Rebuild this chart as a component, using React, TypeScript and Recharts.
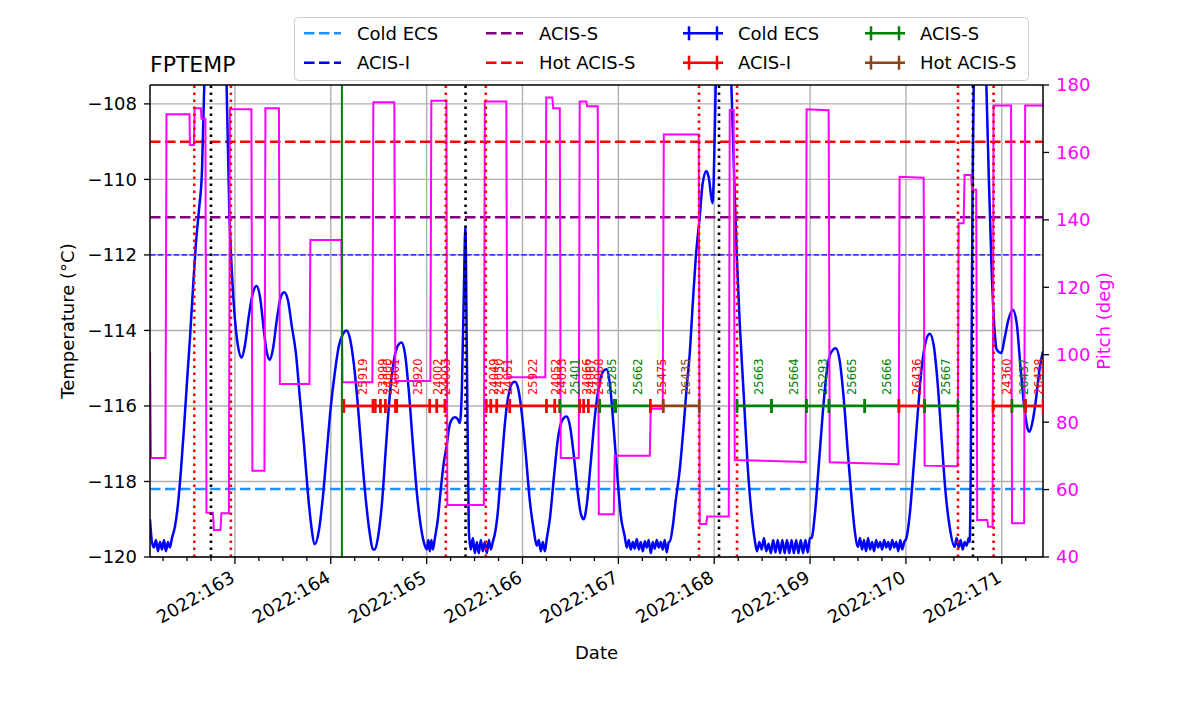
import React from 'react'
import {
  ComposedChart,
  Line,
  Scatter,
  XAxis,
  YAxis,
  CartesianGrid,
  ReferenceLine,
} from 'recharts'

// focal plane temperature (day of 2022, deg C)
const TEMP: [number, number][] = [
  [162.114, -119.0], [162.134, -119.6], [162.155, -119.75], [162.176, -119.55],
  [162.197, -119.85], [162.218, -119.6], [162.239, -119.8], [162.26, -119.55],
  [162.28, -119.85], [162.301, -119.6], [162.322, -119.75], [162.343, -119.5],
  [162.374, -119.2], [162.406, -118.6], [162.437, -117.7], [162.468, -116.6],
  [162.499, -115.4], [162.531, -114.2], [162.562, -112.9], [162.593, -111.7],
  [162.625, -110.8], [162.656, -109.8], [162.68, -107.5], [162.718, -105.0],
  [162.791, -103.0], [162.864, -105.0], [162.913, -107.5], [162.941, -110.8],
  [162.969, -112.5], [163.0, -113.7], [163.031, -114.4], [163.07, -114.72],
  [163.104, -114.4], [163.146, -113.6], [163.188, -113.0], [163.226, -112.82],
  [163.261, -113.1], [163.302, -114.0], [163.334, -114.6], [163.365, -114.78],
  [163.396, -114.5], [163.438, -113.7], [163.48, -113.1], [163.514, -112.99],
  [163.553, -113.2], [163.594, -113.9], [163.636, -114.6], [163.678, -115.8],
  [163.72, -117.0], [163.761, -118.3], [163.793, -119.1], [163.834, -119.66],
  [163.876, -119.3], [163.918, -118.4], [163.959, -117.2], [164.001, -116.0],
  [164.043, -115.1], [164.085, -114.4], [164.126, -114.1], [164.165, -114.0],
  [164.199, -114.2], [164.241, -114.9], [164.283, -116.0], [164.324, -117.3],
  [164.366, -118.5], [164.408, -119.4], [164.439, -119.8], [164.46, -119.8],
  [164.491, -119.5], [164.533, -118.6], [164.575, -117.1], [164.616, -115.7],
  [164.658, -114.8], [164.7, -114.4], [164.738, -114.32], [164.773, -114.6],
  [164.814, -115.6], [164.856, -117.0], [164.898, -118.3], [164.94, -119.2],
  [164.981, -119.7], [165.002, -119.8], [165.018, -119.55], [165.033, -119.85],
  [165.049, -119.55], [165.065, -119.8], [165.086, -119.5], [165.117, -119.0],
  [165.148, -118.2], [165.179, -117.5], [165.208, -117.08], [165.232, -116.6],
  [165.26, -116.37], [165.294, -116.3], [165.325, -116.35], [165.346, -116.45],
  [165.367, -115.6], [165.388, -113.0], [165.404, -111.25], [165.419, -114.5],
  [165.44, -119.3], [165.461, -119.8], [165.482, -119.5], [165.503, -119.9],
  [165.524, -119.6], [165.544, -119.9], [165.565, -119.55], [165.586, -119.85],
  [165.607, -119.6], [165.628, -119.9], [165.649, -119.55], [165.67, -119.8],
  [165.69, -119.6], [165.711, -119.4], [165.743, -118.8], [165.774, -117.8],
  [165.805, -116.8], [165.836, -116.0], [165.868, -115.55], [165.899, -115.38],
  [165.92, -115.36], [165.951, -115.5], [165.993, -116.2], [166.035, -117.3],
  [166.076, -118.5], [166.118, -119.3], [166.149, -119.7], [166.17, -119.55],
  [166.191, -119.85], [166.212, -119.6], [166.233, -119.85], [166.254, -119.5],
  [166.285, -119.0], [166.327, -117.9], [166.368, -116.9], [166.41, -116.4],
  [166.459, -116.28], [166.493, -116.5], [166.535, -117.3], [166.577, -118.3],
  [166.608, -118.85], [166.639, -119.0], [166.671, -118.6], [166.712, -117.5],
  [166.754, -116.3], [166.796, -115.5], [166.837, -115.1], [166.876, -115.03],
  [166.911, -115.4], [166.952, -116.6], [166.994, -118.0], [167.025, -118.9],
  [167.067, -119.46], [167.088, -119.75], [167.109, -119.55], [167.13, -119.8],
  [167.151, -119.6], [167.171, -119.78], [167.192, -119.52], [167.213, -119.8],
  [167.234, -119.6], [167.255, -119.85], [167.276, -119.58], [167.297, -119.75],
  [167.317, -119.55], [167.338, -119.9], [167.359, -119.6], [167.38, -119.78],
  [167.401, -119.55], [167.422, -119.75], [167.443, -119.6], [167.463, -119.8],
  [167.484, -119.55], [167.505, -119.88], [167.526, -119.6], [167.536, -119.6],
  [167.567, -119.2], [167.599, -118.5], [167.64, -117.7], [167.682, -116.5],
  [167.713, -115.5], [167.745, -114.6], [167.776, -113.3], [167.807, -112.1],
  [167.849, -110.99], [167.88, -110.1], [167.919, -109.78], [167.943, -109.95],
  [167.981, -110.63], [167.995, -110.0], [168.016, -107.5], [168.057, -104.0],
  [168.12, -103.0], [168.179, -107.5], [168.203, -109.5], [168.235, -112.0],
  [168.266, -113.8], [168.308, -115.7], [168.349, -117.6], [168.391, -118.9],
  [168.423, -119.55], [168.447, -119.85], [168.471, -119.6], [168.495, -119.8],
  [168.519, -119.5], [168.543, -119.85], [168.567, -119.65], [168.591, -119.9],
  [168.615, -119.55], [168.639, -119.88], [168.663, -119.55], [168.687, -119.9],
  [168.711, -119.55], [168.735, -119.9], [168.759, -119.55], [168.783, -119.9],
  [168.807, -119.55], [168.831, -119.9], [168.855, -119.55], [168.879, -119.9],
  [168.903, -119.55], [168.927, -119.9], [168.951, -119.55], [168.975, -119.88],
  [168.999, -119.5], [169.014, -119.5], [169.049, -118.9], [169.09, -117.6],
  [169.132, -116.2], [169.174, -115.1], [169.215, -114.6], [169.268, -114.47],
  [169.309, -114.8], [169.351, -115.8], [169.393, -117.2], [169.435, -118.5],
  [169.466, -119.3], [169.5, -119.73], [169.521, -119.5], [169.542, -119.8],
  [169.563, -119.55], [169.584, -119.85], [169.605, -119.5], [169.626, -119.8],
  [169.647, -119.6], [169.668, -119.85], [169.689, -119.55], [169.71, -119.75],
  [169.731, -119.6], [169.752, -119.8], [169.773, -119.55], [169.794, -119.75],
  [169.815, -119.6], [169.836, -119.8], [169.857, -119.55], [169.878, -119.75],
  [169.899, -119.6], [169.92, -119.85], [169.941, -119.55], [169.962, -119.8],
  [169.983, -119.6], [170.005, -119.5], [170.039, -118.9], [170.081, -117.6],
  [170.123, -116.2], [170.164, -115.0], [170.206, -114.3], [170.248, -114.09],
  [170.29, -114.4], [170.331, -115.4], [170.373, -116.9], [170.414, -118.3],
  [170.456, -119.2], [170.508, -119.73], [170.529, -119.5], [170.55, -119.75],
  [170.571, -119.55], [170.592, -119.8], [170.613, -119.6], [170.634, -119.7],
  [170.655, -119.5], [170.665, -119.6], [170.675, -118.0], [170.686, -114.0],
  [170.696, -110.0], [170.707, -107.5], [170.769, -104.0], [170.839, -107.5],
  [170.863, -109.8], [170.894, -112.4], [170.925, -114.0], [170.946, -114.5],
  [170.995, -114.6], [171.03, -114.2], [171.071, -113.7], [171.116, -113.46],
  [171.155, -113.8], [171.196, -115.0], [171.238, -116.1], [171.269, -116.6],
  [171.29, -116.68], [171.322, -116.4], [171.353, -115.9], [171.395, -115.0],
  [171.429, -114.56],
]

// spacecraft pitch (deg)
const PITCH: [number, number][] = [
  [162.114, 101.0], [162.124, 69.4], [162.275, 69.4], [162.286, 171.3],
  [162.526, 171.3], [162.531, 162.2], [162.572, 162.2], [162.58, 173.1],
  [162.645, 173.1], [162.651, 170.0], [162.692, 170.0], [162.703, 53.1],
  [162.771, 53.1], [162.781, 48.0], [162.849, 48.0], [162.859, 53.0],
  [162.937, 53.0], [162.948, 172.8], [163.172, 172.8], [163.182, 65.6],
  [163.308, 65.6], [163.318, 173.1], [163.459, 173.1], [163.469, 91.3],
  [163.777, 91.3], [163.787, 134.0], [164.111, 134.0], [164.122, 91.8],
  [164.434, 91.8], [164.444, 174.9], [164.663, 174.9], [164.674, 92.2],
  [165.039, 92.2], [165.049, 175.3], [165.206, 175.3], [165.216, 55.4],
  [165.597, 55.4], [165.607, 175.1], [165.831, 175.1], [165.841, 93.3],
  [166.238, 93.3], [166.248, 176.3], [166.311, 176.3], [166.321, 173.1],
  [166.389, 173.1], [166.399, 69.4], [166.587, 69.4], [166.597, 175.1],
  [166.665, 175.1], [166.675, 173.7], [166.785, 173.7], [166.796, 52.7],
  [166.952, 52.7], [166.962, 70.0], [167.328, 70.0], [167.338, 84.0],
  [167.463, 84.0], [167.474, 165.3], [167.839, 165.3], [167.849, 49.8],
  [167.917, 49.8], [167.927, 52.0], [168.152, 52.0], [168.162, 172.6],
  [168.203, 172.6], [168.214, 68.8], [168.954, 68.2], [168.964, 172.8],
  [169.194, 172.5], [169.205, 68.1], [169.924, 67.5], [169.934, 152.8],
  [170.185, 152.5], [170.195, 67.1], [170.54, 66.9], [170.55, 139.0],
  [170.602, 139.0], [170.612, 153.3], [170.68, 153.3], [170.69, 148.9],
  [170.733, 148.9], [170.744, 51.0], [170.848, 51.0], [170.858, 49.0],
  [170.904, 49.0], [170.914, 173.9], [171.097, 173.9], [171.107, 50.0],
  [171.233, 50.0], [171.244, 173.9], [171.43, 173.9],
]

const LIMIT_NAMES = ['Cold ECS', 'ACIS-I', 'ACIS-S', 'Hot ACIS-S']
const LIMIT_TEMPS = [-118.2, -112.0, -111.0, -109.0]

const RAD_ZONE_DAYS = [162.576, 162.958, 165.2, 165.617, 167.842, 168.238, 170.543, 170.915]
const PERIGEE_DAYS = [162.75, 165.406, 168.05, 170.699]
const NOW_DAY = 164.116

const OBS_IDS = [
  '25919', '23999', '24000', '24001', '25920', '24002', '24003', '24049', '24050',
  '24051', '25922', '24052', '24053', '25401', '24066', '24067', '24068', '25285',
  '25662', '25475', '26435', '25663', '25664', '25293', '25665', '25666', '26436',
  '25667', '24360', '26437', '26438',
]
const OBS_START = [
  164.137, 164.465, 164.517, 164.569, 164.689, 165.033, 165.106, 165.623, 165.67,
  165.732, 165.868, 166.25, 166.337, 166.389, 166.598, 166.639, 166.686, 166.806,
  166.973, 167.333, 167.468, 168.238, 168.597, 168.962, 169.197, 169.57, 169.927,
  170.195, 170.908, 171.106, 171.249,
]
const OBS_STOP = [
  164.439, 164.517, 164.569, 164.674, 165.033, 165.106, 165.189, 165.67, 165.732,
  165.868, 166.25, 166.337, 166.389, 166.598, 166.639, 166.686, 166.806, 166.958,
  167.333, 167.468, 167.844, 168.597, 168.962, 169.197, 169.57, 169.927, 170.195,
  170.543, 171.106, 171.249, 171.43,
]
const OBS_MODE = [
  'ACIS-I', 'ACIS-I', 'ACIS-I', 'ACIS-I', 'ACIS-I', 'ACIS-I', 'ACIS-I', 'ACIS-I', 'ACIS-I',
  'ACIS-I', 'ACIS-I', 'ACIS-I', 'ACIS-I', 'ACIS-S', 'ACIS-I', 'ACIS-I', 'ACIS-I', 'ACIS-S',
  'ACIS-S', 'ACIS-I', 'Hot ACIS-S', 'ACIS-S', 'ACIS-S', 'ACIS-S', 'ACIS-S', 'ACIS-S', 'ACIS-I',
  'ACIS-S', 'ACIS-I', 'ACIS-S', 'ACIS-I',
]
const OBS_LEVEL = -116

const DAY_TICKS = [163, 164, 165, 166, 167, 168, 169, 170, 171]
const TEMP_TICKS = [-120, -118, -116, -114, -112, -110, -108]
const PITCH_TICKS = [40, 60, 80, 100, 120, 140, 160, 180]

const X_DOMAIN: [number, number] = [162.114, 171.43]

// styles
const LIMIT_STYLE: Record<string, { color: string; width: number; dash: string }> = {
  'Cold ECS': { color: '#1e90ff', width: 2.5, dash: '10.5 4.5' },
  'ACIS-I': { color: 'blue', width: 1.3, dash: '5.5 2.4' },
  'ACIS-S': { color: 'purple', width: 2.5, dash: '10.5 4.5' },
  'Hot ACIS-S': { color: 'red', width: 2.5, dash: '10.5 4.5' },
}
const MODE_COLOR: Record<string, string> = {
  'Cold ECS': 'blue',
  'ACIS-I': 'red',
  'ACIS-S': 'green',
  'Hot ACIS-S': '#8b4513',
}
const FONT = '"DejaVu Sans", sans-serif'

const tempData = TEMP.map(([d, t]) => ({ d, t }))
const pitchData = PITCH.map(([d, p]) => ({ d, p }))
const obsRows = OBS_IDS.map((id, i) => ({
  id,
  start: OBS_START[i],
  stop: OBS_STOP[i],
  color: MODE_COLOR[OBS_MODE[i]],
}))
const capData = obsRows.flatMap((o) => [
  { d: o.start, t: OBS_LEVEL, color: o.color },
  { d: o.stop, t: OBS_LEVEL, color: o.color },
])
const labelData = obsRows.map((o) => ({
  d: (o.start + o.stop) / 2,
  t: OBS_LEVEL,
  id: o.id,
  color: o.color,
}))
const allDayTicks = [162, ...DAY_TICKS]
  .flatMap((d) => [d, d + 0.25, d + 0.5, d + 0.75])
  .filter((d) => d >= X_DOMAIN[0] && d <= X_DOMAIN[1])

const minus = (v: number) => String(v).replace('-', '\u2212')

function DayTick(props: any) {
  const { x, y, payload } = props
  const v = payload.value
  const major = Math.abs(v - Math.round(v)) < 1e-6
  const tx = x + 1
  const ty = y + 24
  return (
    <g>
      <line x1={x} x2={x} y1={y} y2={y + (major ? 7 : 4)} stroke="#000" strokeWidth={1.3} />
      {major && (
        <text
          x={tx}
          y={ty}
          textAnchor="end"
          fontSize={18}
          fill="#000"
          transform={`rotate(-30, ${tx}, ${ty})`}
        >
          {`2022:${Math.round(v)}`}
        </text>
      )}
    </g>
  )
}

const CapShape = (p: any) => (
  <line x1={p.cx} x2={p.cx} y1={p.cy - 7} y2={p.cy + 7} stroke={p.payload.color} strokeWidth={2.5} />
)

const LabelShape = (p: any) => (
  <text
    transform={`translate(${p.cx + 9}, ${p.cy - 11}) rotate(-90)`}
    fontSize={11.5}
    fill={p.payload.color}
  >
    {p.payload.id}
  </text>
)

const LEGEND_COLS = [
  { x1: 304, x2: 341, tx: 357 },
  { x1: 486, x2: 523, tx: 539 },
  { x1: 683, x2: 723, tx: 738 },
  { x1: 865, x2: 905, tx: 920 },
]
const LEGEND_ROWS = [33.3, 62.7]

function Legend() {
  const obsNames = ['Cold ECS', 'ACIS-I', 'ACIS-S', 'Hot ACIS-S']
  const items = [
    ...LIMIT_NAMES.map((n) => ({ name: n, kind: 'limit' })),
    ...obsNames.map((n) => ({ name: n, kind: 'obs' })),
  ]
  return (
    <g>
      <rect x={294.5} y={17.5} width={734} height={63} rx={4} fill="#fff" fillOpacity={0.8} stroke="#cccccc" />
      {items.map((it, i) => {
        const col = LEGEND_COLS[Math.floor(i / 2)]
        const cy = LEGEND_ROWS[i % 2]
        if (it.kind === 'limit') {
          const s = LIMIT_STYLE[it.name]
          return (
            <g key={i}>
              <line x1={col.x1} x2={col.x2} y1={cy} y2={cy} stroke={s.color} strokeWidth={2.5} strokeDasharray="10.5 4.5" />
              <text x={col.tx} y={cy + 6.5} fontSize={18} fill="#000">{it.name}</text>
            </g>
          )
        }
        const c = MODE_COLOR[it.name]
        return (
          <g key={i}>
            <line x1={col.x1} x2={col.x2} y1={cy} y2={cy} stroke={c} strokeWidth={2.5} />
            <line x1={col.x1 + 6} x2={col.x1 + 6} y1={cy - 7} y2={cy + 7} stroke={c} strokeWidth={2.5} />
            <line x1={col.x2 - 6} x2={col.x2 - 6} y1={cy - 7} y2={cy + 7} stroke={c} strokeWidth={2.5} />
            <text x={col.tx} y={cy + 6.5} fontSize={18} fill="#000">{it.name}</text>
          </g>
        )
      })}
    </g>
  )
}

export default function App() {
  return (
    <div style={{ position: 'absolute', left: 0, top: 0, width: 1200, height: 714, background: '#fff', fontFamily: FONT }}>
      <ComposedChart width={1200} height={714} margin={{ top: 85, right: 97, bottom: 77, left: 90 }}>
        <CartesianGrid
          yAxisId="left"
          stroke="#b0b0b0"
          strokeWidth={1.4}
          verticalValues={DAY_TICKS}
          horizontalValues={TEMP_TICKS}
        />
        <XAxis
          dataKey="d"
          type="number"
          domain={X_DOMAIN}
          allowDataOverflow
          ticks={allDayTicks}
          interval={0}
          tick={(p: any) => <DayTick {...p} />}
          tickLine={false}
          tickSize={0}
          tickMargin={0}
          axisLine={{ stroke: '#000', strokeWidth: 1.5 }}
          height={80}
        />
        <YAxis
          yAxisId="left"
          dataKey="t"
          type="number"
          domain={[-120, -107.5]}
          allowDataOverflow
          ticks={TEMP_TICKS}
          interval={0}
          tickFormatter={minus}
          tick={{ fontSize: 18, fill: '#000' }}
          tickLine={{ stroke: '#000', strokeWidth: 1.3 }}
          tickSize={6}
          tickMargin={7}
          axisLine={{ stroke: '#000', strokeWidth: 1.5 }}
          width={60}
        />
        <YAxis
          yAxisId="right"
          orientation="right"
          dataKey="p"
          type="number"
          domain={[40, 180]}
          allowDataOverflow
          ticks={PITCH_TICKS}
          interval={0}
          tick={{ fontSize: 18, fill: 'magenta' }}
          tickLine={{ stroke: '#000', strokeWidth: 1.3 }}
          tickSize={6}
          tickMargin={7}
          axisLine={{ stroke: '#000', strokeWidth: 1.5 }}
          width={60}
        />

        {LIMIT_NAMES.map((n, i) => (
          <ReferenceLine
            key={n}
            yAxisId="left"
            y={LIMIT_TEMPS[i]}
            stroke={LIMIT_STYLE[n].color}
            strokeWidth={LIMIT_STYLE[n].width}
            strokeDasharray={LIMIT_STYLE[n].dash}
          />
        ))}

        <Line
          yAxisId="left"
          data={tempData}
          dataKey="t"
          type="monotone"
          stroke="blue"
          strokeWidth={2.5}
          dot={false}
          isAnimationActive={false}
        />
        <Line
          yAxisId="right"
          data={pitchData}
          dataKey="p"
          type="linear"
          stroke="magenta"
          strokeWidth={2}
          dot={false}
          isAnimationActive={false}
        />

        {obsRows.map((o) => (
          <Line
            key={'bar' + o.id}
            yAxisId="left"
            data={[
              { d: o.start, t: OBS_LEVEL },
              { d: o.stop, t: OBS_LEVEL },
            ]}
            dataKey="t"
            stroke={o.color}
            strokeWidth={2.8}
            dot={false}
            isAnimationActive={false}
          />
        ))}
        <Scatter yAxisId="left" data={capData} dataKey="t" shape={CapShape} isAnimationActive={false} />
        <Scatter yAxisId="left" data={labelData} dataKey="t" shape={LabelShape} isAnimationActive={false} />

        {RAD_ZONE_DAYS.map((d) => (
          <ReferenceLine key={'rz' + d} yAxisId="left" x={d} stroke="red" strokeWidth={2.6} strokeDasharray="2.6 4.4" />
        ))}
        {PERIGEE_DAYS.map((d) => (
          <ReferenceLine key={'pg' + d} yAxisId="left" x={d} stroke="#000" strokeWidth={2.6} strokeDasharray="2.6 4.4" />
        ))}
        <ReferenceLine yAxisId="left" x={NOW_DAY} stroke="green" strokeWidth={2} />
        <ReferenceLine yAxisId="left" y={-107.5} stroke="#000" strokeWidth={1.5} />
      </ComposedChart>

      <svg
        width={1200}
        height={714}
        style={{ position: 'absolute', left: 0, top: 0, pointerEvents: 'none', fontFamily: FONT }}
      >
        <text x={150} y={72} fontSize={22} fill="#000">FPTEMP</text>
        <text x={596.5} y={659} fontSize={18} fill="#000" textAnchor="middle">Date</text>
        <text transform="translate(74, 321) rotate(-90)" fontSize={18} fill="#000" textAnchor="middle">
          Temperature (°C)
        </text>
        <text transform="translate(1110, 321) rotate(-90)" fontSize={18} fill="magenta" textAnchor="middle">
          Pitch (deg)
        </text>
        <Legend />
      </svg>
    </div>
  )
}
